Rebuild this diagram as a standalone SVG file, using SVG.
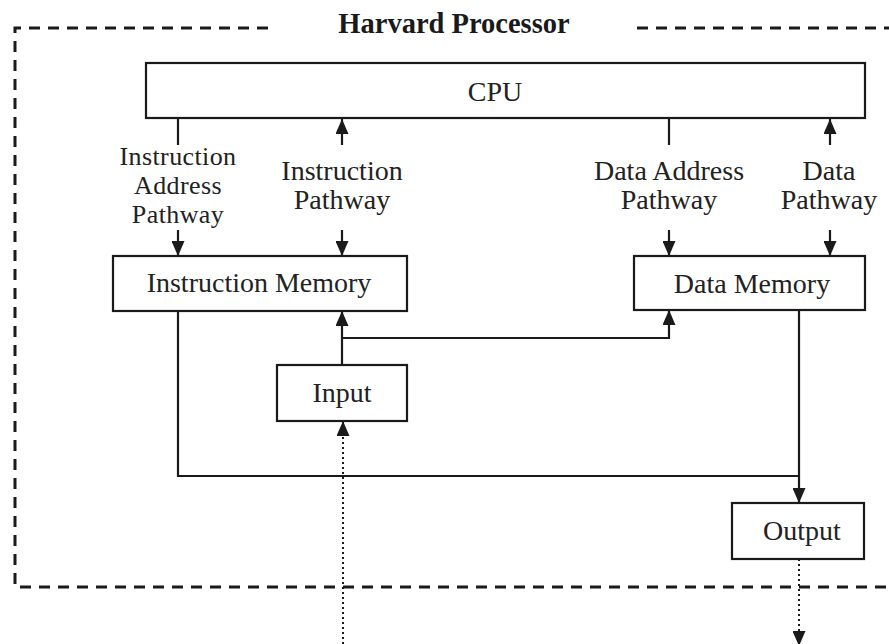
<svg xmlns="http://www.w3.org/2000/svg" width="889" height="644" viewBox="0 0 889 644">
<style>
.bg{fill:#ffffff}
.box{fill:#ffffff;stroke:#1a1a1a;stroke-width:2.2}
.txt{font-family:"Liberation Serif","Times New Roman",serif;font-size:28px;fill:#222;text-anchor:middle}
.stk{font-size:26px;letter-spacing:0.4px}
.title{font-family:"Liberation Serif","Times New Roman",serif;font-size:28.5px;font-weight:bold;fill:#1a1a1a;text-anchor:middle}
.border{fill:none;stroke:#1a1a1a;stroke-width:3;stroke-dasharray:11 8}
.line{fill:none;stroke:#1a1a1a;stroke-width:2.2}
.arr{fill:none;stroke:#1a1a1a;stroke-width:2.2;marker-end:url(#ah)}
.dot{fill:none;stroke:#1a1a1a;stroke-width:2;stroke-dasharray:2 3;marker-end:url(#ah)}
</style>
<defs>
<marker id="ah" markerUnits="userSpaceOnUse" markerWidth="15" markerHeight="13" refX="15" refY="6.5" orient="auto">
<path d="M0,0 L15,6.5 L0,13 z" fill="#1a1a1a"/>
</marker>
</defs>
<rect class="bg" x="0" y="0" width="889" height="644"/>
<g id="boundary">
<path class="border" d="M268 28 H15 V587 H889"/>
<path class="border" d="M637 28 H889"/>
<text class="title" x="454" y="33">Harvard Processor</text>
</g>
<g id="connectors">
<path class="line" d="M178 118 V145"/>
<path class="arr" d="M178 230 V256"/>
<path class="arr" d="M342 145 V119"/>
<path class="arr" d="M342 230 V256"/>
<path class="line" d="M669 118 V145"/>
<path class="arr" d="M669 230 V256"/>
<path class="arr" d="M830 145 V119"/>
<path class="arr" d="M830 230 V256"/>
<path class="line" d="M178 311 V476 H799"/>
<path class="arr" d="M799 310 V503"/>
<path class="arr" d="M342 365 V311"/>
<path class="arr" d="M342 338 H669 V310"/>
<path class="dot" d="M343 644 V421"/>
<path class="dot" d="M799 559 V646"/>
</g>
<g id="labels">
<text class="txt stk" x="178" y="165">Instruction</text>
<text class="txt stk" x="178" y="194">Address</text>
<text class="txt stk" x="178" y="223">Pathway</text>
<text class="txt" x="342" y="180">Instruction</text>
<text class="txt" x="342" y="209">Pathway</text>
<text class="txt" x="669" y="180">Data Address</text>
<text class="txt" x="669" y="209">Pathway</text>
<text class="txt" x="829" y="180">Data</text>
<text class="txt" x="829" y="209">Pathway</text>
</g>
<g id="cpu">
<rect class="box" x="146" y="63" width="719" height="55"/>
<text class="txt" x="495" y="101">CPU</text>
</g>
<g id="instruction-memory">
<rect class="box" x="113" y="256" width="294" height="55"/>
<text class="txt" x="259" y="292">Instruction Memory</text>
</g>
<g id="data-memory">
<rect class="box" x="634" y="256" width="231" height="54"/>
<text class="txt" x="752" y="293">Data Memory</text>
</g>
<g id="input">
<rect class="box" x="277" y="365" width="130" height="56"/>
<text class="txt" x="342" y="402">Input</text>
</g>
<g id="output">
<rect class="box" x="732" y="503" width="132" height="56"/>
<text class="txt" x="802" y="540">Output</text>
</g>
</svg>
